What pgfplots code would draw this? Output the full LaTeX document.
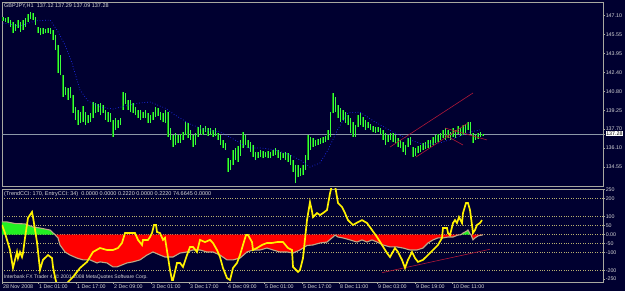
\documentclass[border=0pt]{standalone}
\usepackage{fontspec}
\setmainfont{Liberation Sans}
\usepackage{pgfplots}
\pgfplotsset{compat=1.18}
\usepackage{pgfplotstable}

\definecolor{bg}{HTML}{000030}
\definecolor{frame}{HTML}{A8A8A0}
\definecolor{lbl}{HTML}{D8D8D8}
\definecolor{candleA}{HTML}{0C9A0C}
\definecolor{candleB}{HTML}{3CFF3C}
\definecolor{gridc}{HTML}{B8B070}
\definecolor{tanc}{HTML}{BBAA88}
\definecolor{trendc}{HTML}{B01838}
\definecolor{bidline}{HTML}{8C98A8}
\definecolor{mac}{HTML}{2030FF}
\definecolor{ccifill}{HTML}{FF0000}
\definecolor{ccipos}{HTML}{22F022}

\pgfplotstableread{
x lo hi
3 146.66 146.99
5.5 146.58 146.91
8 146.49 146.99
10.5 146.16 146.74
13 145.66 146.58
15.5 145.83 146.41
18 146.08 146.74
20.5 145.75 146.58
23 145.91 146.74
25.5 146.16 146.91
28 146.58 147.24
30.5 146.83 147.41
33 146.74 147.32
35.5 146.33 146.99
38 145.66 146.16
40.5 145.50 146.08
43 145.58 146.08
45.5 145.66 146.00
48 145.66 146.08
50.5 145.58 146.08
53 145.08 145.91
55.5 144.25 145.50
58 142.34 144.67
60.5 142.17 143.84
63 140.35 142.17
65.5 140.51 141.18
68 140.10 141.09
70.5 140.26 141.18
73 139.02 140.51
75.5 138.44 139.52
78 138.02 139.27
80.5 138.19 139.10
83 138.27 139.60
85.5 138.02 139.10
88 138.19 138.85
90.5 138.27 139.02
93 138.60 139.93
95.5 139.02 139.85
98 139.10 139.77
100.5 138.85 139.85
103 139.02 139.68
105.5 138.44 139.27
108 138.27 139.10
110.5 138.27 139.02
113 137.03 138.44
115.5 137.61 138.60
118 137.77 138.44
120.5 138.02 138.60
123 139.27 140.76
125.5 139.77 140.68
128 139.27 140.10
130.5 139.10 140.10
133 139.02 139.85
135.5 138.85 139.52
138 138.60 139.27
140.5 138.44 139.27
143 138.60 139.10
145.5 138.60 139.27
148 138.19 139.02
150.5 138.19 138.85
153 138.44 139.10
155.5 138.69 139.52
158 138.77 139.44
160.5 138.44 139.10
163 138.27 139.02
165.5 138.19 139.27
168 137.03 139.10
170.5 136.78 137.77
173 136.19 137.19
175.5 136.36 137.36
178 136.53 137.19
180.5 136.53 137.28
183 136.78 137.44
185.5 137.19 138.27
188 136.94 138.19
190.5 136.78 137.61
193 136.19 137.19
195.5 136.36 137.36
198 137.03 137.86
200.5 137.28 138.02
203 137.19 137.77
205.5 137.44 137.94
208 137.11 137.77
210.5 137.19 137.77
213 137.03 137.61
215.5 137.11 137.77
218 136.78 137.36
220.5 136.36 137.19
223 136.11 136.78
225.5 135.95 136.53
228 134.12 135.28
230.5 134.28 135.11
233 134.70 135.95
235.5 135.11 136.11
238 134.95 136.28
240.5 135.45 136.78
243 136.11 137.44
245.5 136.36 137.19
248 136.11 136.78
250.5 135.78 136.61
253 135.36 136.36
255.5 135.11 135.78
258 135.28 135.78
260.5 135.36 135.95
263 135.28 135.86
265.5 135.36 135.78
268 135.28 135.86
270.5 135.28 135.78
273 135.45 135.95
275.5 135.53 136.11
278 135.28 135.95
280.5 135.11 135.78
283 135.28 135.70
285.5 135.11 135.78
288 134.95 135.70
290.5 134.70 135.53
293 134.12 135.11
295.5 133.20 134.70
298 133.70 134.70
300.5 133.78 134.45
303 133.87 134.70
305.5 134.28 135.53
308 135.11 137.19
310.5 135.95 137.03
313 136.19 136.94
315.5 136.28 136.78
318 136.36 136.86
320.5 136.44 136.94
323 136.53 137.03
325.5 136.61 137.11
328 136.78 137.61
330.5 137.03 139.10
333 139.02 140.68
335.5 139.10 140.35
338 138.60 139.68
340.5 138.27 139.44
343 138.44 139.27
345.5 138.19 139.10
348 138.02 138.85
350.5 137.36 138.60
353 137.03 138.27
355.5 137.03 138.02
358 137.86 138.85
360.5 138.02 139.02
363 137.86 138.69
365.5 137.61 138.44
368 137.77 138.27
370.5 137.61 138.11
373 137.44 137.94
375.5 137.36 137.86
378 137.44 137.86
380.5 137.28 137.77
383 136.78 137.61
385.5 136.36 137.36
388 136.61 137.19
390.5 136.78 137.36
393 136.61 137.36
395.5 136.53 137.19
398 136.19 136.94
400.5 136.11 136.78
403 135.78 136.61
405.5 135.53 136.36
408 136.19 136.94
410.5 136.36 137.03
413 135.36 136.19
415.5 135.45 136.11
418 135.70 136.28
420.5 135.78 136.36
423 135.95 136.53
425.5 136.03 136.61
428 136.11 136.78
430.5 136.19 136.78
433 136.36 137.03
435.5 136.53 137.19
438 136.61 137.28
440.5 136.78 137.36
443 136.94 137.61
445.5 136.78 137.77
448 136.94 137.61
450.5 136.78 137.44
453 137.03 137.77
455.5 136.94 137.61
458 137.28 137.94
460.5 137.11 137.77
463 137.19 138.02
465.5 137.36 138.11
468 137.61 138.27
470.5 137.28 138.27
473 136.53 137.36
475.5 136.78 137.19
478 136.86 137.36
480.5 137.03 137.44
483 137.09 137.29
}\bars

\pgfplotstableread{
x ma
3 146.49
20 146.24
35 146.66
50 146.74
57 145.91
65 144.67
72 143.17
80 140.93
88 140.02
100 139.52
113 139.35
125 139.60
140 139.85
150 139.93
165 139.43
175 138.85
190 138.10
205 137.61
220 137.44
235 136.78
248 136.11
262 136.11
275 135.95
290 135.53
300 135.11
310 134.53
320 134.87
328 135.95
338 137.70
348 139.02
360 139.10
375 138.27
393 137.44
410 136.78
425 136.36
440 136.53
455 136.94
470 137.44
480 137.61
}\matab

\pgfplotstableread{
x v
2 71
7 71
15 62
25 60
33 43
40 37
50 26
55 0
58 -18
60 -57
65 -96
70 -113
77 -130
83 -140
90 -140
97 -157
100 -151
107 -157
113 -179
117 -179
122 -168
127 -157
133 -151
140 -140
147 -113
153 -96
160 -113
165 -124
173 -124
180 -102
187 -96
193 -85
200 -85
207 -96
213 -96
220 -113
227 -140
233 -140
240 -130
247 -96
253 -85
260 -85
267 -74
273 -85
280 -96
287 -96
293 -102
300 -85
307 -60
313 -57
320 -46
327 -41
333 -13
335 -2
338 -13
343 -18
350 -29
357 -41
362 -29
367 -41
372 -29
377 -41
383 -57
390 -68
397 -68
403 -74
410 -85
417 -85
423 -74
428 -46
433 -29
438 -18
443 -18
448 -13
453 -13
458 -2
461 0
463 9
467 21
468 26
470 5
471 0
473 -29
475 -18
478 -7
482 -2
483 0
}\trend

\pgfplotstableread{
x v
2 54
5 9
10 -85
13 -185
15 -140
17 -96
18 -130
20 -96
22 -124
23 -102
25 -18
28 93
32 126
33 98
37 -41
40 -196
42 -157
43 -140
48 -113
52 -130
53 -179
55 -235
57 -280
62 -300
66 -280
68 -263
73 -235
80 -185
87 -151
93 -96
100 -74
107 -85
113 -85
118 -74
122 -46
125 9
130 9
135 9
138 -29
142 -57
143 -29
148 -29
150 -13
152 9
154 54
156 54
157 15
160 9
163 -29
165 -18
168 -124
170 -196
172 -252
173 -252
177 -157
180 -157
183 -179
187 -113
190 -68
193 -68
197 -96
200 -29
205 -41
210 -29
213 -46
217 -85
220 -124
223 -185
227 -241
230 -252
233 -185
237 -157
240 -113
243 -57
246 -2
248 -2
252 -41
253 -85
257 -74
262 -57
267 -46
272 -46
277 -41
283 -41
288 -74
292 -85
293 -179
298 -207
300 -196
303 -130
307 81
310 181
312 130
313 98
317 120
320 109
323 120
327 137
330 230
332 275
335 275
338 176
342 154
345 120
348 81
353 54
358 70
362 81
367 65
372 26
377 -13
382 -57
387 -102
390 -124
395 -74
398 -96
402 -140
405 -185
408 -140
412 -96
415 -130
418 -151
423 -140
428 -113
433 -85
438 -57
442 -18
443 37
447 37
448 9
450 -2
453 65
455 81
457 65
459 98
462 65
463 120
466 176
468 176
470 137
472 54
473 9
475 26
477 54
480 65
482 81
}\cci

\pgfplotsset{
  mtstyle/.style={
    scale only axis, width=601pt, anchor=south west,
    xmin=2, xmax=603,
    axis background/.style={fill=bg},
    axis line style={frame, line width=0.8pt},
    ytick pos=right, yticklabel pos=right,
    tick align=outside, major tick length=2pt,
    tick style={frame, line width=0.5pt},
    ticklabel style={font=\fontsize{5.3}{6}\selectfont, text=lbl},
    yticklabel style={anchor=west, inner sep=0.6pt},
  }
}

\begin{document}
\begin{tikzpicture}
\path[use as bounding box, fill=bg] (0,0) rectangle (625pt,291pt);

% ---------- price panel ----------
\begin{axis}[mtstyle,
  height=184pt, at={(2pt,105pt)},
  ymin=132.955, ymax=148.238,
  xtick=\empty,
  ytick={147.10,145.55,143.95,142.40,140.80,139.25,137.70,136.10,134.55,132.95},
  yticklabels={147.10,145.55,143.95,142.40,140.80,139.25,137.70,136.10,134.55,132.95},
  extra y ticks={137.28}, extra y tick labels={137.28},
  extra y tick style={yticklabel style={fill=white, text=black, inner sep=0.6pt, xshift=0.5pt}},
]
\addplot[bidline, line width=0.6pt] coordinates {(2,137.28) (603,137.28)};
\addplot[draw=none, mark=none, forget plot,
  error bars/.cd, y dir=plus, y explicit,
  error bar style={draw=candleA, line width=1.8pt, line cap=butt}, error mark=none]
  table[x=x, y=lo, y error expr=\thisrow{hi}-\thisrow{lo}] {\bars};
\addplot[draw=none, mark=none, forget plot,
  error bars/.cd, y dir=plus, y explicit,
  error bar style={draw=candleB, line width=0.8pt, line cap=butt}, error mark=none]
  table[x=x, y=lo, y error expr=\thisrow{hi}-\thisrow{lo}] {\bars};
\addplot[mac, line width=0.7pt, dotted] table[x=x, y=ma] {\matab};
\addplot[trendc, line width=0.6pt] coordinates {(390,136.19) (473,140.68)};
\addplot[trendc, line width=0.6pt] coordinates {(416,135.36) (468,138.19)};
\addplot[trendc, line width=0.6pt] coordinates {(445,137.77) (487,136.78)};
\addplot[trendc, line width=0.6pt] coordinates {(445,137.19) (463,136.36)};
\end{axis}

% ---------- CCI panel ----------
\begin{axis}[mtstyle,
  height=93pt, at={(2pt,9pt)},
  ymin=-262.8, ymax=253.9,
  ytick={-200,-100,-50,0,50,100,200},
  yticklabels={-200,-100,-50,0.00,50,100,200},
  ymajorgrids, grid style={gridc, dotted, line width=0.5pt},
  extra y ticks={250,-250},
  extra y tick labels={\raisebox{-2.5pt}{250},\raisebox{2.5pt}{-250}},
  extra y tick style={grid=none},
  xtick={2,38,76,113,151,189,227,264,302,339,377,415,452},
  xticklabels={28 Nov 2008,1 Dec 01:00,1 Dec 17:00,2 Dec 09:00,3 Dec 01:00,3 Dec 17:00,4 Dec 09:00,5 Dec 01:00,5 Dec 17:00,8 Dec 11:00,9 Dec 03:00,9 Dec 19:00,10 Dec 11:00},
  xtick pos=bottom,
  xticklabel style={anchor=north west, inner sep=0.6pt, xshift=0.3pt},
]
\addplot[fill=ccipos, draw=none, restrict x to domain=2:55] table[x=x,y=v] {\trend} \closedcycle;
\addplot[fill=ccifill, draw=none, restrict x to domain=55:461] table[x=x,y=v] {\trend} \closedcycle;
\addplot[fill=ccipos, draw=none, restrict x to domain=461:471] table[x=x,y=v] {\trend} \closedcycle;
\addplot[fill=ccifill, draw=none, restrict x to domain=471:483] table[x=x,y=v] {\trend} \closedcycle;
\addplot[tanc, line width=1.1pt] table[x=x,y=v] {\trend};
\node[anchor=west, inner sep=0pt, text=lbl, font=\fontsize{5}{6}\selectfont]
  at (rel axis cs:0.003,0.055) {Interbank FX Trader 4, © 2001-2008 MetaQuotes Software Corp.};
\addplot[trendc, line width=0.6pt] coordinates {(382,-211) (490,-81)};
\addplot[yellow, line width=1.7pt] table[x=x,y=v] {\cci};
\end{axis}

\node[anchor=west, inner sep=0pt, text=lbl, font=\fontsize{5.5}{6.5}\selectfont]
  at (4pt,285pt) {GBPJPY,H1\ \ 137.12 137.29 137.09 137.28};
\node[anchor=west, inner sep=0pt, text=lbl, font=\fontsize{5.5}{6.5}\selectfont]
  at (4pt,97pt) {(TrendCCI: 170, EntryCCI: 34)\ \ 0.0000 0.0000 0.2220 0.0000 0.2220 74.6645 0.0000};
\end{tikzpicture}
\end{document}
